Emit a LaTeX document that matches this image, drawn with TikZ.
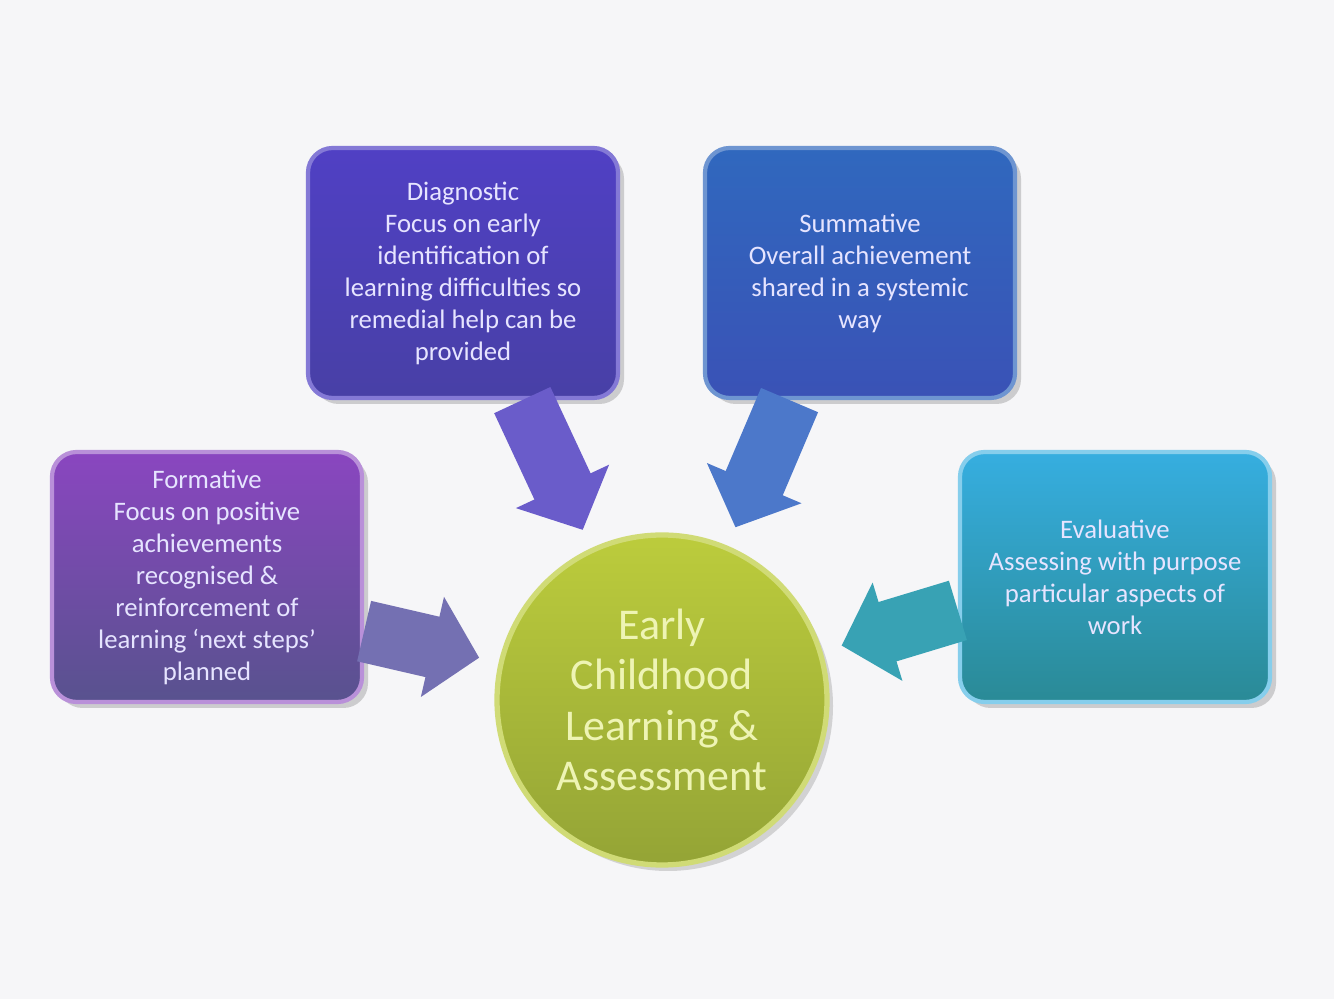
\documentclass[tikz,border=0pt]{standalone}
\usepackage{fontspec}
\setmainfont{Carlito}
\usepackage{tikz}
\usetikzlibrary{arrows.meta}
\usetikzlibrary{shadows}
\usetikzlibrary{positioning}

\definecolor{bgcol}{HTML}{F6F6F8}
\definecolor{diagtop}{HTML}{5040C4}
\definecolor{diagbot}{HTML}{4840A6}
\definecolor{summtop}{HTML}{3068BE}
\definecolor{summbot}{HTML}{3A52B6}
\definecolor{formtop}{HTML}{8A46C0}
\definecolor{formbot}{HTML}{58528E}
\definecolor{evaltop}{HTML}{36AEE0}
\definecolor{evalbot}{HTML}{2A8A96}
\definecolor{coretop}{HTML}{BCCC3C}
\definecolor{corebot}{HTML}{94A436}
\definecolor{diagarrow}{HTML}{6A5CCA}
\definecolor{summarrow}{HTML}{4C78CA}
\definecolor{formarrow}{HTML}{7470B2}
\definecolor{evalarrow}{HTML}{38A2B4}
\definecolor{boxtext}{HTML}{E6E4FF}
\definecolor{coretext}{HTML}{EEF4B4}

\begin{document}
\begin{tikzpicture}
\tikzstyle{kind}=[rounded corners=7pt, minimum width=3.1cm, minimum height=2.5cm, align=center,
  text=boxtext, font=\fontsize{7.6}{9.1}\selectfont, line width=1.2pt,
  drop shadow={opacity=0.35, shadow xshift=0.6mm, shadow yshift=-0.6mm}]
\tikzstyle{blk}=[line width=0.62cm, -{Triangle[width=1.0cm, length=0.48cm]}, shorten >=0.2cm]
\useasboundingbox[fill=bgcol] (0,0) rectangle (13.34,9.99);
\node[kind, draw=diagtop!70!white, top color=diagtop, bottom color=diagbot] (diag) at (4.63,7.26)
  {Diagnostic\\Focus on early\\identification of\\learning difficulties so\\remedial help can be\\provided};
\node[kind, draw=summtop!70!white, top color=summtop, bottom color=summbot] (summ) at (8.60,7.26)
  {Summative\\Overall achievement\\shared in a systemic\\way};
\node[kind, draw=formtop!60!white, top color=formtop, bottom color=formbot] (form) at (2.07,4.22)
  {Formative\\Focus on positive\\achievements\\recognised \&\\reinforcement of\\learning `next steps'\\planned};
\node[kind, draw=evaltop!60!white, top color=evaltop, bottom color=evalbot] (eval) at (11.15,4.22)
  {Evaluative\\Assessing with purpose\\particular aspects of\\work};
\node[circle, minimum size=3.3cm, inner sep=0pt, draw=coretop!70!white, line width=1.5pt,
  top color=coretop, bottom color=corebot, text=coretext, align=center,
  font=\fontsize{12.5}{14.3}\selectfont,
  drop shadow={opacity=0.3, shadow xshift=0.6mm, shadow yshift=-0.6mm}] (core) at (6.62,2.99)
  {Early\\Childhood\\Learning \&\\Assessment};
\foreach \i/\a/\c in {diag/295/diagarrow, summ/241/summarrow, form/341/formarrow, eval/192/evalarrow}{
\draw[blk, draw=\c] (\i.\a) -- (core);}
\end{tikzpicture}
\end{document}
